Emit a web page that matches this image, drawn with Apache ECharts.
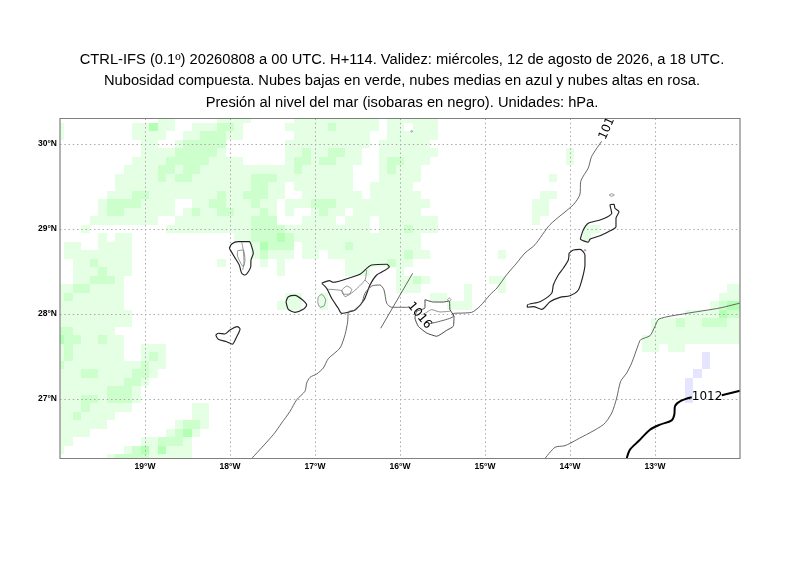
<!DOCTYPE html>
<html>
<head>
<meta charset="utf-8">
<style>html,body{margin:0;padding:0;background:#fff}#c{width:800px;height:566px}</style>
<script src="https://cdn.jsdelivr.net/npm/echarts@6/dist/echarts.min.js"></script>
</head>
<body>
<div id="c"></div>
<script>
const titleLines = [
  'CTRL-IFS (0.1º) 20260808 a 00 UTC. H+114. Validez: miércoles, 12 de agosto de 2026, a 18 UTC.',
  'Nubosidad compuesta. Nubes bajas en verde, nubes medias en azul y nubes altas en rosa.',
  'Presión al nivel del mar (isobaras en negro). Unidades: hPa.'
];
const lonTicks = [-19,-18,-17,-16,-15,-14,-13];
const latTicks = [27,28,29,30];

// Cloud grid: row r = latitude 30.3 - 0.1 r, column c = longitude -20 + 0.1 c. Pairs are first,last column.
const lowCloudWeak = [
 [12,13,19,22,28,37,39,44],
 [0,0,9,13,16,21,27,37,39,40,42,44],
 [0,0,9,12,15,21,28,36,39,44],
 [10,11,14,19,27,36,38,43],
 [10,19,27,35,38,44,60,60],
 [9,21,27,35,38,43,60,60],
 [8,34,38,42],
 [7,34,38,42,58,58],
 [7,26,28,34,37,41],
 [6,26,29,35,37,42,57,58],
 [5,13,16,25,27,43,56,57],
 [5,13,15,25,27,27,30,33,35,42,56,57],
 [4,11,14,25,29,32,34,36,38,44,56,56],
 [3,3,13,36,38,44,62,63],
 [5,5,7,8,21,42,62,62],
 [1,2,5,8,23,27,29,42],
 [1,8,23,27,29,30,32,43,52,52],
 [2,8,19,19,24,24,26,26,34,41],
 [2,8,26,26,34,36,40,40],
 [2,7,40,43,51,52],
 [0,7,40,42,48,48,52,52,79,80],
 [0,7,27,28,31,31,44,45,48,48,78,80],
 [0,7,26,28,31,31,46,48,77,80],
 [0,8,74,80],
 [0,8,70,80],
 [0,6,70,80],
 [0,7,69,80],
 [0,7,10,12,69,70,72,73],
 [0,7,10,12],
 [0,12],
 [0,11],
 [0,10],
 [0,9],
 [0,9],
 [0,8,16,17],
 [0,6,16,17],
 [0,5,14,17],
 [0,3,13,16],
 [0,1,10,15],
 [0,0,8,15],
 [6,15]
];
const lowCloudMedium = [
 [],
 [19,20,32,32],
 [17,19],
 [15,19],
 [14,18,29,29,32,33],
 [13,17,28,29,31,32,39,40],
 [12,13,15,16,28,28,39,39],
 [12,12,14,15,23,25],
 [23,24],
 [9,10,19,19,22,24],
 [6,9,18,19,23,23,30,32],
 [6,7,16,16,19,20,24,24,31,31],
 [23,25],
 [23,26,41,41],
 [23,27],
 [24,27,34,34],
 [24,24,41,41],
 [4,4,39,39],
 [5,5],
 [4,6,42,42],
 [2,3],
 [1,1],
 [78,80],
 [78,80],
 [73,73,76,78],
 [0,1],
 [0,2,5,5],
 [1,1],
 [1,1,11,11],
 [0,0,10,10],
 [3,4,9,10],
 [8,9],
 [6,8],
 [3,4,6,8],
 [3,3],
 [2,2],
 [15,16],
 [14,15],
 [12,14],
 [9,10,12,12],
 [7,10]
];
// [row, column]
const lowCloudStrong = [[1,11],[14,26],[15,24],[22,79],[22,80],[23,78],[26,0],[37,15],[39,10],[39,12]];
const midCloud = [[28,76],[29,76],[30,75],[31,74],[32,74],[33,74]];

// Sea level pressure contours, [lon, lat]
const isobar1016West = [[-17.745,26.30],[-17.491,26.58],[-17.392,26.718],[-17.294,26.855],[-17.215,26.992],[-17.118,27.091],[-17.098,27.188],[-17.059,27.255],[-16.98,27.294],[-16.902,27.365],[-16.844,27.474],[-16.706,27.6],[-16.647,27.756],[-16.615,27.914],[-16.608,28.024],[-16.529,28.047],[-16.451,28.126],[-16.412,28.244],[-16.333,28.329],[-16.235,28.341],[-16.188,28.282],[-16.156,28.126],[-16.098,28.079],[-15.902,28.079]];
const isobar1016East = [[-15.667,27.882],[-15.373,27.973],[-15.373,28.004],[-15.156,28.02],[-15.059,28.091],[-14.941,28.227],[-14.859,28.306],[-14.745,28.462],[-14.627,28.6],[-14.529,28.718],[-14.412,28.815],[-14.235,29.051],[-13.961,29.286],[-13.882,29.412],[-13.874,29.561],[-13.785,29.718],[-13.745,29.855],[-13.627,30.032]];
const isobarStray = [[-16.227,27.832],[-15.851,28.479]];
const isobar1012West = [[-13.333,26.30],[-13.294,26.404],[-13.196,26.502],[-13.059,26.639],[-12.941,26.698],[-12.804,26.749],[-12.773,26.815],[-12.765,26.914],[-12.706,26.973],[-12.568,27.02]];
const isobar1012East = [[-12.215,27.044],[-12,27.098]];
// [lon, lat, rotation in degrees, text]
const isobarLabels = [[-12.388,27.024,0,'1012'],[-15.771,27.982,-50,'1016'],[-13.547,30.224,66,'1016']];

// Coasts, [lon, lat]
const africaCoast = [[-14.294,26.30],[-14.176,26.432],[-14.059,26.451],[-13.921,26.521],[-13.608,26.698],[-13.509,26.835],[-13.451,27.012],[-13.404,27.208],[-13.333,27.306],[-13.274,27.424],[-13.196,27.639],[-13.168,27.698],[-13.059,27.745],[-13,27.855],[-12.953,27.941],[-12.647,28.004],[-12.235,28.071],[-12,28.129]];
const laPalma = [[-18.008,28.773],[-17.98,28.824],[-17.902,28.851],[-17.773,28.851],[-17.745,28.792],[-17.726,28.714],[-17.753,28.635],[-17.756,28.556],[-17.824,28.459],[-17.862,28.479],[-17.891,28.576],[-17.949,28.674],[-18.008,28.773]];
const elHierro = [[-18.168,27.753],[-18.138,27.773],[-18.059,27.765],[-18,27.812],[-17.914,27.851],[-17.882,27.824],[-17.921,27.733],[-17.973,27.644],[-18.039,27.674],[-18.138,27.702],[-18.168,27.753]];
const laGomera = [[-17.341,28.145],[-17.314,28.204],[-17.235,28.22],[-17.156,28.173],[-17.098,28.106],[-17.138,28.055],[-17.235,28.02],[-17.314,28.055],[-17.341,28.145]];
const tenerife = [[-16.921,28.361],[-16.832,28.392],[-16.785,28.373],[-16.588,28.427],[-16.471,28.467],[-16.333,28.576],[-16.156,28.585],[-16.126,28.556],[-16.274,28.459],[-16.353,28.341],[-16.424,28.165],[-16.529,28.047],[-16.588,28.027],[-16.686,28.008],[-16.726,28.067],[-16.804,28.185],[-16.862,28.302],[-16.921,28.361]];
const granCanaria = [[-15.706,28.168],[-15.608,28.141],[-15.491,28.141],[-15.42,28.153],[-15.412,28.051],[-15.365,27.973],[-15.373,27.855],[-15.451,27.808],[-15.568,27.738],[-15.686,27.776],[-15.785,27.855],[-15.824,27.953],[-15.804,28.032],[-15.706,28.071],[-15.706,28.168]];
const lanzarote = [[-13.879,28.879],[-13.844,28.988],[-13.785,29.067],[-13.647,29.106],[-13.568,29.138],[-13.509,29.185],[-13.529,29.282],[-13.482,29.291],[-13.471,29.244],[-13.424,29.204],[-13.459,29.126],[-13.459,29.027],[-13.549,28.968],[-13.647,28.921],[-13.765,28.879],[-13.785,28.844],[-13.844,28.862],[-13.879,28.879]];
const fuerteventura = [[-14.012,28.714],[-13.961,28.753],[-13.882,28.761],[-13.824,28.694],[-13.824,28.576],[-13.855,28.42],[-13.902,28.282],[-14,28.215],[-14.118,28.196],[-14.235,28.145],[-14.333,28.055],[-14.432,28.086],[-14.502,28.079],[-14.502,28.106],[-14.353,28.145],[-14.215,28.244],[-14.196,28.341],[-14.138,28.459],[-14.079,28.538],[-14.02,28.635],[-14.012,28.714]];
// Thin grey outlines and orography contours
const thinLines = [
 [[-16.961,28.204],[-16.921,28.232],[-16.874,28.165],[-16.894,28.094],[-16.941,28.079],[-16.968,28.145],[-16.961,28.204]],
 [[-17.862,28.844],[-17.844,28.753],[-17.835,28.596],[-17.851,28.518]],
 [[-17.909,28.745],[-17.844,28.753],[-17.824,28.635],[-17.844,28.556],[-17.882,28.615],[-17.914,28.694],[-17.909,28.745]],
 [[-16.844,28.291],[-16.686,28.274],[-16.647,28.204],[-16.549,28.262],[-16.412,28.4],[-16.392,28.518]],
 [[-16.412,28.4],[-16.353,28.341]],
 [[-16.686,28.282],[-16.627,28.329],[-16.568,28.291],[-16.596,28.235],[-16.667,28.232],[-16.686,28.282]],
 [[-15.726,27.992],[-15.627,28.051],[-15.529,28.024],[-15.412,28.032]],
 [[-15.42,28.19],[-15.4,28.168],[-15.42,28.146],[-15.44,28.168],[-15.42,28.19]],
 [[-13.539,29.4],[-13.509,29.415],[-13.479,29.4],[-13.509,29.385],[-13.539,29.4]],
 [[-15.874,30.149],[-15.862,30.157],[-15.85,30.149],[-15.862,30.141],[-15.874,30.149]],
 [[-13.836,28.75],[-13.824,28.76],[-13.812,28.75],[-13.824,28.74],[-13.836,28.75]]
];

const cloudColors = ['#e5ffe5','#ccffcc','#b3ffb3','#e5e5ff'];
const cellLon = c => -20 + 0.1 * c;
const cellLat = r => 30.3 - 0.1 * r;
const cloudData = [];
[lowCloudWeak, lowCloudMedium].forEach((rows, level) => {
  rows.forEach((spans, r) => {
    for (let i = 0; i < spans.length; i += 2)
      for (let c = spans[i]; c <= spans[i + 1]; c++) cloudData.push([cellLon(c), cellLat(r), level]);
  });
});
lowCloudStrong.forEach(([r, c]) => cloudData.push([cellLon(c), cellLat(r), 2]));
midCloud.forEach(([r, c]) => cloudData.push([cellLon(c), cellLat(r), 3]));

const lineSeries = (data, color, width, smooth) => ({
  type: 'line', data, showSymbol: false, symbol: 'none', z: 5, clip: true, animation: false, silent: true,
  smooth: smooth || false,
  lineStyle: { color, width }
});
const gridLine = { show: true, lineStyle: { color: '#aaaaaa', width: 1, type: [1.5, 2.75] } };

const chart = echarts.init(document.getElementById('c'), null, { renderer: 'canvas' });
chart.setOption({
  animation: false,
  backgroundColor: '#ffffff',
  title: titleLines.map((t, i) => ({
    text: t, left: 397, top: 46 + i * 21.4, textAlign: 'center',
    textStyle: { fontFamily: 'Liberation Sans', fontSize: 14.7, fontWeight: 'normal', color: '#000', lineHeight: 18 }
  })),
  grid: { left: 60, top: 118.5, width: 680, height: 340, show: true, borderColor: '#808080', borderWidth: 1.2, backgroundColor: 'transparent', z: 6 },
  xAxis: {
    type: 'value', min: -20, max: -12, interval: 1, z: 3,
    axisLine: { show: false },
    axisTick: { show: false, customValues: lonTicks },
    axisLabel: { customValues: lonTicks, formatter: v => Math.abs(v) + '°W', fontFamily: 'Liberation Sans', fontWeight: 'bold', fontSize: 8.5, color: '#000', margin: 4 },
    splitLine: gridLine
  },
  yAxis: {
    type: 'value', min: 26.3, max: 30.3, z: 3,
    axisLine: { show: false },
    axisTick: { show: false, customValues: latTicks },
    axisLabel: { customValues: latTicks, formatter: v => v + '°N', fontFamily: 'Liberation Sans', fontWeight: 'bold', fontSize: 8.5, color: '#000', margin: 3 },
    splitLine: gridLine
  },
  series: [
    {
      type: 'custom', data: cloudData, z: 1, clip: true, silent: true, animation: false,
      encode: { x: 0, y: 1 },
      renderItem: (params, api) => {
        const lon = api.value(0), lat = api.value(1);
        const a = api.coord([lon - 0.05, lat + 0.05]), b = api.coord([lon + 0.05, lat - 0.05]);
        const x = Math.round(a[0]), y = Math.round(a[1]);
        return { type: 'rect', shape: { x, y, width: Math.round(b[0]) - x, height: Math.round(b[1]) - y },
                 style: { fill: cloudColors[api.value(2)] } };
      }
    },
    ...[laPalma, elHierro, laGomera, tenerife, lanzarote, fuerteventura].map(d => lineSeries(d, '#222', 1.15, 0.25)),
    lineSeries(granCanaria, '#333', 0.9, 0.15),
    lineSeries(africaCoast, '#555', 0.9, 0.25),
    ...thinLines.map(d => lineSeries(d, '#777', 0.8, 0.2)),
    ...[isobar1016West, isobar1016East].map(d => lineSeries(d, '#555', 0.9, 0.25)),
    lineSeries(isobarStray, '#555', 0.9),
    ...[isobar1012West, isobar1012East].map(d => lineSeries(d, '#000', 2, 0.3)),
    {
      type: 'custom', data: isobarLabels, z: 7, clip: true, silent: true, animation: false,
      dimensions: ['lon','lat','rot','text'],
      encode: { x: 0, y: 1 },
      renderItem: (params, api) => {
        const item = isobarLabels[params.dataIndex];
        const p = api.coord([item[0], item[1]]);
        return { type: 'text', x: p[0], y: p[1], rotation: item[2] * Math.PI / 180,
                 style: { text: item[3], fill: '#000', font: '12px "DejaVu Sans"', align: 'center', verticalAlign: 'middle' } };
      }
    }
  ]
});
</script>
</body>
</html>
